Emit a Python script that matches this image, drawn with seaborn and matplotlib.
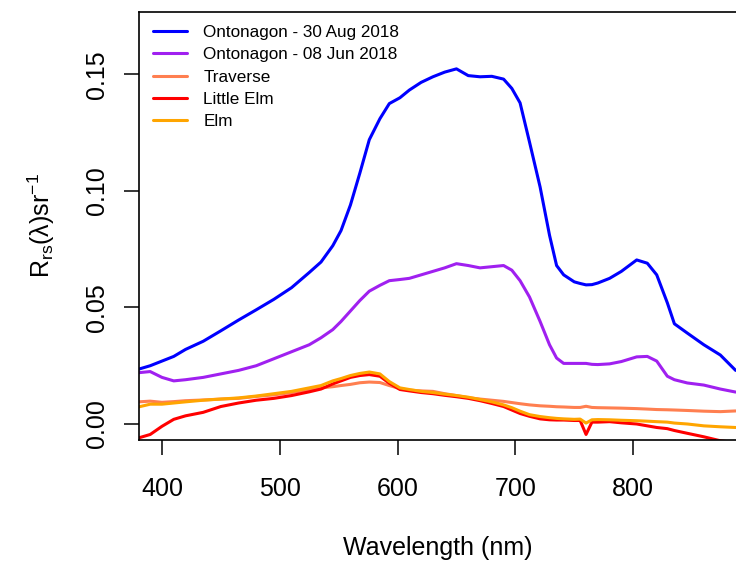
import numpy as np
import pandas as pd
import matplotlib
matplotlib.use("Agg")
import matplotlib.pyplot as plt
import seaborn as sns

wavelength = [380, 390, 400, 410, 420, 435, 450, 465, 480, 495, 510, 525, 535, 545, 552,
              560, 568, 576, 585, 593, 602, 610, 620, 630, 640, 650, 660, 670, 680, 690,
              697, 704, 712, 721, 729, 735, 741, 750, 755, 760, 765, 770, 780, 790, 803,
              812, 820, 829, 835, 846, 860, 874, 887]

ontonagon_aug = [0.0235, 0.0250, 0.0270, 0.0290, 0.0320, 0.0355, 0.0400, 0.0446, 0.0490, 0.0535,
                 0.0585, 0.0650, 0.0695, 0.0765, 0.0830, 0.0940, 0.1077, 0.1220, 0.1310, 0.1375,
                 0.1400, 0.1433, 0.1466, 0.1490, 0.1510, 0.1524, 0.1495, 0.1490, 0.1492, 0.1480,
                 0.1440, 0.1378, 0.1210, 0.1017, 0.0810, 0.0680, 0.0640, 0.0610, 0.0603, 0.0597,
                 0.0598, 0.0605, 0.0625, 0.0655, 0.0704, 0.0690, 0.0640, 0.0520, 0.0430, 0.0390,
                 0.0340, 0.0296, 0.0230]

ontonagon_jun = [0.0220, 0.0225, 0.0200, 0.0185, 0.0190, 0.0200, 0.0215, 0.0230, 0.0250, 0.0280,
                 0.0310, 0.0340, 0.0370, 0.0405, 0.0440, 0.0485, 0.0530, 0.0570, 0.0595, 0.0615,
                 0.0620, 0.0625, 0.0640, 0.0655, 0.0670, 0.0688, 0.0680, 0.0670, 0.0675, 0.0680,
                 0.0660, 0.0615, 0.0545, 0.0440, 0.0340, 0.0283, 0.0260, 0.0260, 0.0260, 0.0260,
                 0.0256, 0.0255, 0.0258, 0.0268, 0.0288, 0.0290, 0.0270, 0.0205, 0.0190, 0.0176,
                 0.0167, 0.0150, 0.0137]

traverse = [0.0095, 0.0098, 0.0093, 0.0096, 0.0100, 0.0103, 0.0107, 0.0110, 0.0118, 0.0125,
            0.0135, 0.0147, 0.0155, 0.0160, 0.0165, 0.0170, 0.0177, 0.0180, 0.0178, 0.0165,
            0.0152, 0.0145, 0.0142, 0.0140, 0.0130, 0.0122, 0.0113, 0.0107, 0.0102, 0.0097,
            0.0092, 0.0087, 0.0082, 0.0078, 0.0076, 0.0074, 0.0073, 0.0071, 0.0071, 0.0076,
            0.0071, 0.0070, 0.0069, 0.0068, 0.0066, 0.0064, 0.0062, 0.0061, 0.0060, 0.0058,
            0.0055, 0.0053, 0.0056]

little_elm = [-0.0060, -0.0045, -0.0010, 0.0020, 0.0035, 0.0050, 0.0075, 0.0090, 0.0102, 0.0110,
              0.0122, 0.0138, 0.0150, 0.0172, 0.0185, 0.0200, 0.0208, 0.0212, 0.0205, 0.0175,
              0.0148, 0.0142, 0.0135, 0.0130, 0.0123, 0.0117, 0.0110, 0.0100, 0.0088, 0.0075,
              0.0060, 0.0045, 0.0033, 0.0022, 0.0018, 0.0017, 0.0017, 0.0015, 0.0015, -0.0045,
              0.0008, 0.0008, 0.0010, 0.0005, 0.0000, -0.0008, -0.0015, -0.0020, -0.0028, -0.0040,
              -0.0055, -0.0072, -0.0080]

elm = [0.0073, 0.0085, 0.0085, 0.0090, 0.0095, 0.0102, 0.0107, 0.0112, 0.0120, 0.0130,
       0.0140, 0.0155, 0.0165, 0.0185, 0.0195, 0.0208, 0.0217, 0.0223, 0.0215, 0.0182,
       0.0155, 0.0148, 0.0140, 0.0135, 0.0128, 0.0122, 0.0115, 0.0105, 0.0095, 0.0082,
       0.0070, 0.0055, 0.0040, 0.0032, 0.0027, 0.0024, 0.0022, 0.0020, 0.0021, 0.0004,
       0.0018, 0.0019, 0.0018, 0.0016, 0.0014, 0.0012, 0.0010, 0.0008, 0.0004, 0.0000,
       -0.0008, -0.0012, -0.0015]

series_names = ["Ontonagon - 30 Aug 2018", "Ontonagon - 08 Jun 2018", "Traverse", "Little Elm", "Elm"]
series_values = [ontonagon_aug, ontonagon_jun, traverse, little_elm, elm]
colors = ["#0000FF", "#A020F0", "#FF7F50", "#FF0000", "#FFA500"]

x_ticks = [400, 500, 600, 700, 800]
y_ticks = [0.00, 0.05, 0.10, 0.15]
y_tick_labels = ["0.00", "0.05", "0.10", "0.15"]

df = pd.concat([pd.DataFrame({"wavelength": wavelength, "rrs": v, "site": n})
                for n, v in zip(series_names, series_values)], ignore_index=True)

sns.set_style("ticks")
plt.rcParams["font.family"] = ["Liberation Sans", "DejaVu Sans"]
plt.rcParams["mathtext.fontset"] = "custom"
plt.rcParams["mathtext.rm"] = "Liberation Sans"
plt.rcParams["mathtext.it"] = "Liberation Sans:italic"
plt.rcParams["text.color"] = "black"
plt.rcParams["axes.labelcolor"] = "black"
plt.rcParams["xtick.color"] = "black"
plt.rcParams["ytick.color"] = "black"

fig = plt.figure(figsize=(7.36, 5.62), dpi=100)
ax = fig.add_axes([139 / 736, 1 - 440 / 562, 1 - 139 / 736, (440 - 12) / 562])

sns.lineplot(data=df, x="wavelength", y="rrs", hue="site", hue_order=series_names,
             palette=dict(zip(series_names, colors)), sort=False, linewidth=2.2,
             estimator=None, ax=ax)

ax.set_xlim(380.5, 887.3)
ax.set_ylim(-0.00687, 0.1768)
ax.set_xticks(x_ticks)
ax.set_yticks(y_ticks)
ax.set_yticklabels(y_tick_labels, rotation=90, va="center")
ax.tick_params(axis="both", length=10.8, width=1.1, labelsize=18, color="black",
               labelcolor="black")
ax.tick_params(axis="x", pad=16)
ax.tick_params(axis="y", pad=11)
for s in ["left", "top", "bottom"]:
    ax.spines[s].set_linewidth(1.2)
    ax.spines[s].set_color("black")
ax.spines["right"].set_visible(False)

ax.set_xlabel("Wavelength (nm)", fontsize=18, labelpad=25, color="black")
ax.set_ylabel(r"R$_{\mathrm{rs}}$(λ)sr$^{-1}$", fontsize=18, labelpad=20, color="black")

handles, labels = ax.get_legend_handles_labels()
ax.legend(handles, labels, loc="upper left", frameon=False, fontsize=12.3,
          handlelength=2.0, handletextpad=0.95, labelspacing=0.42,
          borderaxespad=0.0, bbox_to_anchor=(0.012, 0.985))

fig.savefig("out.png", dpi=100)
